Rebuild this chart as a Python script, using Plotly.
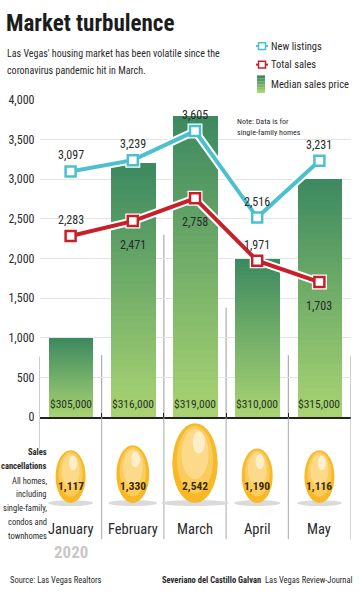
import plotly.graph_objects as go

# ---------------- data ----------------
months = ["January", "February", "March", "April", "May"]
new_listings = [3097, 3239, 3605, 2516, 3231]
total_sales = [2283, 2471, 2758, 1971, 1703]
median_price = [305000, 316000, 319000, 310000, 315000]
cancellations = [1117, 1330, 2542, 1190, 1116]
sales_label_pos = ["top", "bottom", "bottom", "top", "bottom"]
y_ticks = [0, 500, 1000, 1500, 2000, 2500, 3000, 3500, 4000]
divider_tops = [760, 780, 2300, 1380, 780, 770]

# bar height on the left scale (price above a $300,000 base, 1 unit = $5)
bar_heights = [(p - 300000) / 5 for p in median_price]

W, H = 359, 596
FONT = "Roboto Condensed, Roboto, sans-serif"
CYAN = "#4cc1cd"
RED = "#c8202b"
TXT = "#2a2a2a"


def px(x):
    return x / W


def py(y):
    return 1 - y / H


def hex_to_rgb(h):
    h = h.lstrip("#")
    return tuple(int(h[i:i + 2], 16) for i in (0, 2, 4))


def lerp(c1, c2, t):
    a, b = hex_to_rgb(c1), hex_to_rgb(c2)
    return "rgb(%d,%d,%d)" % tuple(round(a[i] + (b[i] - a[i]) * t) for i in range(3))


def ptext(x, y, text, size, anchor="left", color=TXT, bold=False):
    return dict(x=px(x), y=py(y), xref="paper", yref="paper", xanchor=anchor, yanchor="middle",
                text=f"<b>{text}</b>" if bold else text, showarrow=False,
                font=dict(family=FONT, size=size, color=color))


fig = go.Figure()

# ---------- gradient bars (stacked slices) ----------
N = 40
BOTTOM_G, TOP_G = "#a9d372", "#3d8a60"
for k in range(N):
    fig.add_trace(go.Bar(
        x=list(range(5)), y=[h / N for h in bar_heights],
        marker=dict(color=lerp(BOTTOM_G, TOP_G, k / (N - 1)), line=dict(width=0)),
        width=0.72, showlegend=False, hoverinfo="skip"))

# ---------- lines with white halo ----------
for vals, col in [(new_listings, CYAN), (total_sales, RED)]:
    fig.add_trace(go.Scatter(
        x=list(range(5)), y=vals, mode="lines+markers",
        line=dict(color="white", width=8),
        marker=dict(symbol="square", size=15, color="white"),
        showlegend=False, hoverinfo="skip"))
    fig.add_trace(go.Scatter(
        x=list(range(5)), y=vals, mode="lines+markers",
        line=dict(color=col, width=4),
        marker=dict(symbol="square", size=10, color="white", line=dict(color=col, width=2.5)),
        showlegend=False, hoverinfo="skip"))

annotations = []
shapes = []

# value labels
for i, v in enumerate(new_listings):
    annotations.append(dict(x=i, y=v, xref="x", yref="y", text=f"{v:,}", showarrow=False,
                            yshift=16, font=dict(family=FONT, size=12, color=TXT)))
for i, v in enumerate(total_sales):
    annotations.append(dict(x=i, y=v, xref="x", yref="y", text=f"{v:,}", showarrow=False,
                            yshift=16 if sales_label_pos[i] == "top" else -24,
                            font=dict(family=FONT, size=12, color=TXT)))
# price labels in bars
for i, p in enumerate(median_price):
    annotations.append(dict(x=i, y=0, xref="x", yref="y", text=f"${p:,}", showarrow=False,
                            yanchor="bottom", yshift=4,
                            font=dict(family=FONT, size=11.5, color="#28341f")))

# dividers in chart area
for j, top in enumerate(divider_tops):
    shapes.append(dict(type="line", xref="x", yref="y", x0=j - 0.5, x1=j - 0.5, y0=0, y1=top,
                       line=dict(color="#9a9a9a", width=1), layer="below"))

# ---------- lower panel (y2 in pixel units, 0 = bottom of image) ----------
UNIT_PX = (350.5 - 39.5) / 5
bottom_px = 596 - 508
for j in range(6):
    y0 = 596 - 452 if j == 0 else 596 - 545
    shapes.append(dict(type="line", xref="x", yref="y2", x0=j - 0.5, x1=j - 0.5, y0=y0, y1=176,
                       line=dict(color="#a8a8a8", width=1)))

for i, c in enumerate(cancellations):
    wpx = 0.9 * c ** 0.5
    hpx = 1.8 * wpx
    wu = wpx / UNIT_PX
    shapes.append(dict(type="circle", xref="x", yref="y2",
                       x0=i - wu * 0.75, x1=i + wu * 0.75, y0=bottom_px - 3, y1=bottom_px + 3,
                       fillcolor="#dadada", line=dict(width=0)))
    shapes.append(dict(type="circle", xref="x", yref="y2",
                       x0=i - wu / 2, x1=i + wu / 2, y0=bottom_px, y1=bottom_px + hpx,
                       fillcolor="#f7b928", line=dict(width=0)))
    shapes.append(dict(type="circle", xref="x", yref="y2",
                       x0=i - wu * 0.40, x1=i + wu * 0.40, y0=bottom_px + hpx * 0.12, y1=bottom_px + hpx * 0.97,
                       fillcolor="#fbcb5c", line=dict(width=0)))
    shapes.append(dict(type="circle", xref="x", yref="y2",
                       x0=i - wu * 0.30, x1=i + wu * 0.30, y0=bottom_px + hpx * 0.3, y1=bottom_px + hpx * 0.93,
                       fillcolor="#fdd98a", line=dict(width=0)))
    shapes.append(dict(type="circle", xref="x", yref="y2",
                       x0=i - wu * 0.05, x1=i + wu * 0.22, y0=bottom_px + hpx * 0.62, y1=bottom_px + hpx * 0.9,
                       fillcolor="rgba(255,255,255,0.55)", line=dict(width=0)))
    annotations.append(dict(x=i, y=bottom_px + 17, xref="x", yref="y2", text=f"<b>{c:,}</b>",
                            showarrow=False, font=dict(family=FONT, size=11.5, color="#3a2c05")))
    annotations.append(dict(x=i, y=596 - 535, xref="x", yref="y2", text=months[i],
                            showarrow=False, font=dict(family=FONT, size=14.5, color=TXT)))

annotations.append(dict(x=0, y=596 - 558, xref="x", yref="y2", text="<b>2020</b>",
                        showarrow=False, font=dict(family=FONT, size=17, color="#c8c8c8")))

annotations.append(ptext(49, 456, "Sales", 8.5, "right", bold=True))
annotations.append(ptext(49, 470, "cancellations", 8.5, "right", bold=True))
for k, line in enumerate(["All homes,", "including", "single-family,", "condos and", "townhomes"]):
    annotations.append(ptext(49, 485 + k * 14.2, line, 8.5, "right"))

# ---------- title / subtitle / note / footer ----------
annotations += [
    ptext(4, 17, "Market turbulence", 23, color="#1c1c1c", bold=True),
    ptext(5, 48, "Las Vegas' housing market has been volatile since the", 10),
    ptext(5, 65, "coronavirus pandemic hit in March.", 10),
    ptext(235, 117, "Note: Data is for", 8),
    ptext(235, 129, "single-family homes", 8),
    ptext(8, 587, "Source: Las Vegas Realtors", 8.5),
    dict(x=px(355), y=py(587), xref="paper", yref="paper", xanchor="right", yanchor="middle",
         text="<b>Severiano del Castillo Galvan</b>  Las Vegas Review-Journal", showarrow=False,
         font=dict(family=FONT, size=8.5, color=TXT)),
]

# ---------- manual legend ----------
LX = 256
for name, col, yy in [("New listings", CYAN, 40), ("Total sales", RED, 59)]:
    shapes.append(dict(type="line", xref="paper", yref="paper", x0=px(LX), x1=px(LX + 12), y0=py(yy), y1=py(yy),
                       line=dict(color=col, width=2)))
    shapes.append(dict(type="rect", xref="paper", yref="paper", x0=px(LX + 2.5), x1=px(LX + 9.5),
                       y0=py(yy - 3.5), y1=py(yy + 3.5), fillcolor="white", line=dict(color=col, width=1.5)))
    annotations.append(ptext(LX + 13, yy, name, 10.5))
for k in range(6):
    shapes.append(dict(type="rect", xref="paper", yref="paper", x0=px(LX + 1), x1=px(LX + 9),
                       y0=py(88 - k * 3), y1=py(88 - (k + 1) * 3),
                       fillcolor=lerp(BOTTOM_G, TOP_G, k / 5), line=dict(width=0)))
annotations.append(ptext(LX + 13, 79, "Median sales price", 10.5))

fig.update_layout(
    width=W, height=H, margin=dict(l=0, r=0, t=0, b=0),
    paper_bgcolor="white", plot_bgcolor="white",
    barmode="stack", bargap=0,
    showlegend=False,
    xaxis=dict(domain=[px(39.5), px(350.5)], range=[-0.5, 4.5],
               tickvals=[-0.5, 0.5, 1.5, 2.5, 3.5, 4.5], ticks="inside", ticklen=4, tickcolor="#222",
               showticklabels=False, showgrid=False, zeroline=False,
               showline=True, linecolor="#222", linewidth=1.5),
    yaxis=dict(domain=[py(420), py(95)], range=[0, 4000], tickvals=y_ticks,
               ticktext=[f"{v:,}" for v in y_ticks],
               showgrid=True, gridcolor="#e4e4e4", gridwidth=1, zeroline=False,
               tickfont=dict(family=FONT, size=12, color=TXT), ticks="", ticklabelstandoff=4),
    yaxis2=dict(domain=[0, py(420)], range=[0, 176], anchor="x", visible=False),
    shapes=shapes, annotations=annotations,
)

fig.write_html("out.html", config={"displayModeBar": False},
               post_script="document.body.style.margin='0px';")
